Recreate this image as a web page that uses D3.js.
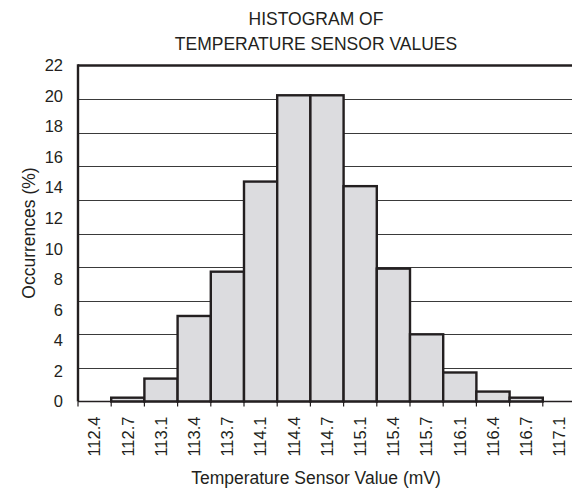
<!DOCTYPE html>
<html>
<head>
<meta charset="utf-8">
<script src="https://cdn.jsdelivr.net/npm/d3@7"></script>
<style>
  html, body { margin: 0; padding: 0; background: #fff; }
  svg { display: block; }
  text { font-family: "Liberation Sans", Arial, sans-serif; fill: #231f20; }
</style>
</head>
<body>
<svg id="chart" width="572" height="491"></svg>
<script>
// Histogram bins (sensor value, mV) and share of samples in each bin (%)
const binLabels = ["112.4", "112.7", "113.1", "113.4", "113.7", "114.1", "114.4", "114.7",
                   "115.1", "115.4", "115.7", "116.1", "116.4", "116.7", "117.1"];
const occurrences = [0, 0.25, 1.5, 5.6, 8.5, 14.4, 20.05, 20.05, 14.1, 8.7, 4.4, 1.9, 0.65, 0.25, 0];
const yTickValues = [0, 2, 4, 6, 8, 10, 12, 14, 16, 18, 20, 22];
const titleLines = ["HISTOGRAM OF", "TEMPERATURE SENSOR VALUES"];
const xTitle = "Temperature Sensor Value (mV)";
const yTitle = "Occurrences (%)";

const svg = d3.select("#chart");
const plot = { left: 78, right: 576, top: 65.5, bottom: 401.5 };

const x = d3.scaleBand().domain(binLabels).range([plot.left, plot.right]).padding(0);
const y = d3.scaleLinear().domain([0, 22]).range([plot.bottom, plot.top]);
// horizontal rules split the plot height into ten equal bands
const grid = d3.scaleLinear().domain([0, 10]).range([plot.bottom, plot.top]);

// grid lines
svg.append("g")
  .selectAll("line")
  .data(grid.ticks(10).filter(d => d > 0 && d < 10))
  .join("line")
  .attr("x1", plot.left).attr("x2", plot.right)
  .attr("y1", d => Math.round(grid(d)) + 0.5)
  .attr("y2", d => Math.round(grid(d)) + 0.5)
  .attr("stroke", "#3a3a3a")
  .attr("stroke-width", 1.2);

// bars
svg.append("g")
  .selectAll("rect")
  .data(occurrences)
  .join("rect")
  .attr("x", (d, i) => x(binLabels[i]))
  .attr("width", x.bandwidth())
  .attr("y", d => y(d))
  .attr("height", d => y(0) - y(d))
  .attr("fill", d => d > 0 ? "#dcdcdf" : "none")
  .attr("stroke", d => d > 0 ? "#231f20" : "none")
  .attr("stroke-width", 2.4);

// frame: top and left edges
svg.append("line")
  .attr("x1", plot.left).attr("x2", plot.right).attr("y1", plot.top).attr("y2", plot.top)
  .attr("stroke", "#231f20").attr("stroke-width", 2.4);
svg.append("line")
  .attr("x1", plot.left).attr("x2", plot.left).attr("y1", plot.top - 1.2).attr("y2", plot.bottom)
  .attr("stroke", "#231f20").attr("stroke-width", 2.4);

// x axis with ticks at the bin edges
const xAxis = svg.append("g").attr("transform", `translate(0,${plot.bottom})`);
xAxis.append("line")
  .attr("x1", plot.left).attr("x2", plot.right).attr("y1", 0).attr("y2", 0)
  .attr("stroke", "#231f20").attr("stroke-width", 1.6);
xAxis.selectAll("line.tick")
  .data(binLabels)
  .join("line")
  .attr("class", "tick")
  .attr("x1", d => x(d)).attr("x2", d => x(d))
  .attr("y1", 0).attr("y2", 5)
  .attr("stroke", "#231f20").attr("stroke-width", 1.2);
xAxis.selectAll("text")
  .data(binLabels)
  .join("text")
  .attr("transform", d => `translate(${x(d) + x.bandwidth() / 2},15) rotate(-90)`)
  .attr("text-anchor", "end")
  .attr("dy", "0.35em")
  .style("font-size", "16.5px")
  .text(d => d);

// y tick labels
svg.append("g")
  .selectAll("text")
  .data(yTickValues)
  .join("text")
  .attr("x", 63)
  .attr("y", d => y(d))
  .attr("dy", "0.35em")
  .attr("text-anchor", "end")
  .style("font-size", "16.5px")
  .text(d => d);

// titles
svg.append("g")
  .selectAll("text")
  .data(titleLines)
  .join("text")
  .attr("x", 316)
  .attr("y", (d, i) => 25 + i * 25)
  .attr("text-anchor", "middle")
  .style("font-size", "17.5px")
  .text(d => d);

svg.append("text")
  .attr("x", 316).attr("y", 484)
  .attr("text-anchor", "middle")
  .style("font-size", "17.5px")
  .text(xTitle);

svg.append("text")
  .attr("transform", "translate(35,233) rotate(-90)")
  .attr("text-anchor", "middle")
  .style("font-size", "17.5px")
  .text(yTitle);
</script>
</body>
</html>
